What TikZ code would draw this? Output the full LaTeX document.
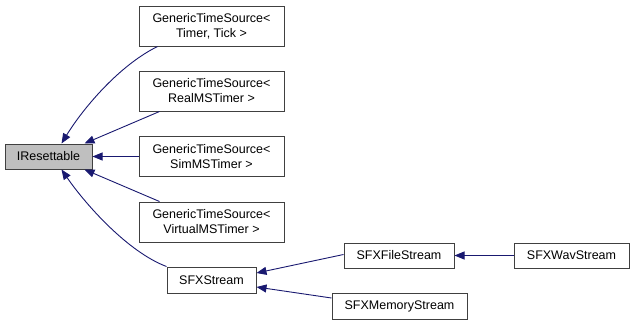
\documentclass[tikz,border=0pt]{standalone}
\usepackage{fontspec}
\setmainfont{Liberation Sans}
\usetikzlibrary{arrows.meta,calc}
\definecolor{edgeblue}{HTML}{191970}
\definecolor{boxline}{HTML}{404040}
\definecolor{basefill}{HTML}{BFBFBF}
\tikzset{
  cls/.style={draw=boxline, line width=1pt, fill=white, inner sep=0pt,
    align=center, font=\fontsize{12.5}{15}\selectfont},
  inherit/.style={draw=edgeblue, line width=0.9pt,
    -{Triangle[length=10pt,width=8pt]}},
}
\begin{document}
\begin{tikzpicture}[x=1pt,y=-1pt]
\useasboundingbox (0,0) rectangle (633,325);
% classes
\node[cls, fill=basefill, minimum width=87pt, minimum height=25pt] (ires) at (48.5,156.5) {IResettable};
\node[cls, minimum width=145pt, minimum height=40pt] (gtick) at (211.5,26) {GenericTimeSource<\\Timer, Tick >};
\node[cls, minimum width=145pt, minimum height=40pt] (greal) at (211.5,91) {GenericTimeSource<\\RealMSTimer >};
\node[cls, minimum width=145pt, minimum height=40pt] (gsim) at (211.5,156.5) {GenericTimeSource<\\SimMSTimer >};
\node[cls, minimum width=145pt, minimum height=40pt] (gvirt) at (211.5,222) {GenericTimeSource<\\VirtualMSTimer >};
\node[cls, minimum width=89pt, minimum height=26pt] (sfx) at (211.5,280) {SFXStream};
\node[cls, minimum width=110pt, minimum height=25pt] (sfile) at (399,255.5) {SFXFileStream};
\node[cls, minimum width=115pt, minimum height=25pt] (swav) at (571.5,255.5) {SFXWavStream};
\node[cls, minimum width=135pt, minimum height=26pt] (smem) at (399.5,306) {SFXMemoryStream};
% inheritance edges
\draw[inherit] ($(gtick.south west)+(19,0)$) .. controls (118,66) and (82,110) .. ($(ires.north west)+(57,0)$);
\draw[inherit] ($(greal.south west)+(21,0)$) -- ($(ires.north east)+(-8,0)$);
\draw[inherit] (gsim.west) -- (ires.east);
\draw[inherit] ($(gvirt.north west)+(21,0)$) -- ($(ires.south east)+(-8,0)$);
\draw[inherit] ($(sfx.north west)+(0,0)$) .. controls (128,252) and (86,205) .. ($(ires.south west)+(57,0)$);
\draw[inherit] ($(sfile.west)+(0,-1)$) -- ($(sfx.east)+(0,-7)$);
\draw[inherit] ($(smem.west)+(0,-8)$) -- ($(sfx.east)+(0,7)$);
\draw[inherit] (swav.west) -- (sfile.east);
\end{tikzpicture}
\end{document}
